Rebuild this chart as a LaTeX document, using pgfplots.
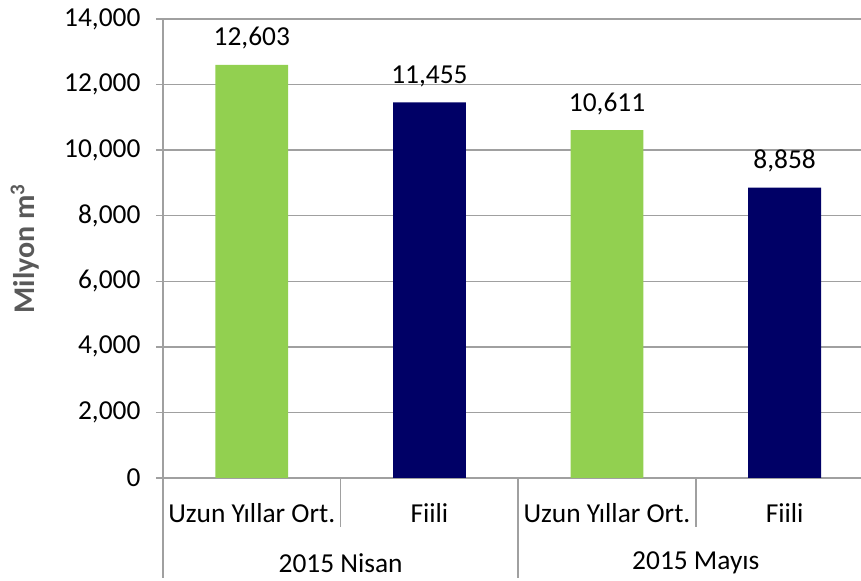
\documentclass[border=0pt]{standalone}
\usepackage{pgfplots}
\pgfplotsset{compat=1.18}
\usepackage{fontspec}
\setmainfont{Carlito}
\definecolor{bargreen}{RGB}{146,208,80}
\definecolor{barnavy}{RGB}{0,0,102}
\definecolor{axgray}{RGB}{160,160,160}
\definecolor{labgray}{RGB}{89,89,89}
\begin{document}
\fontsize{13.7pt}{16pt}\selectfont
\begin{tikzpicture}
\useasboundingbox (-81.5pt,-51.5pt) rectangle (349pt,239pt);
\begin{axis}[
  at={(0,0)}, anchor=south west,
  scale only axis,
  width=349pt, height=229.5pt,
  xmin=-0.5, xmax=3.43,
  ymin=0, ymax=14000,
  axis lines=left,
  axis line style={draw=axgray, line width=0.75pt, -},
  clip=false,
  ytick={0,2000,...,14000},
  scaled y ticks=false,
  ymajorgrids,
  grid style={draw=axgray, line width=0.75pt},
  ytick style={draw=axgray, line width=0.75pt},
  tick align=outside,
  major tick length=3.5pt,
  xtick={0,1,2,3},
  xticklabels={Uzun Yıllar Ort., Fiili, Uzun Yıllar Ort., Fiili},
  xtick style={draw=none},
  xticklabel style={anchor=center, yshift=-14pt},
  yticklabel style={xshift=-3pt},
  /pgf/number format/assume math mode=true,
  ylabel={\bfseries Milyon m\textsuperscript{3}},
  ylabel style={at={([xshift=-69pt]axis description cs:0,0.5)}, anchor=center, rotate=0, color=labgray, font=\fontsize{15pt}{17pt}\selectfont},
  ybar, bar width=0.41,
  nodes near coords,
  every node near coord/.append style={font=\fontsize{13.7pt}{16pt}\selectfont, color=black, yshift=3pt},
]
\addplot[draw=none, fill=bargreen, bar shift=0pt] coordinates {(0,12603) (2,10611)};
\addplot[draw=none, fill=barnavy, bar shift=0pt] coordinates {(1,11455) (3,8858)};
\draw[axgray, line width=0.75pt] (axis cs:-0.5,0) -- ([yshift=-50pt]axis cs:-0.5,0);
\draw[axgray, line width=0.75pt] (axis cs:1.5,0) -- ([yshift=-50pt]axis cs:1.5,0);
\draw[axgray, line width=0.75pt] (axis cs:0.5,0) -- ([yshift=-24.5pt]axis cs:0.5,0);
\draw[axgray, line width=0.75pt] (axis cs:2.5,0) -- ([yshift=-24.5pt]axis cs:2.5,0);
\node[anchor=center, yshift=-42.5pt] at (axis cs:0.5,0) {2015 Nisan};
\node[anchor=center, yshift=-42.5pt] at (axis cs:2.5,0) {2015 Mayıs};
\end{axis}
\end{tikzpicture}
\end{document}
